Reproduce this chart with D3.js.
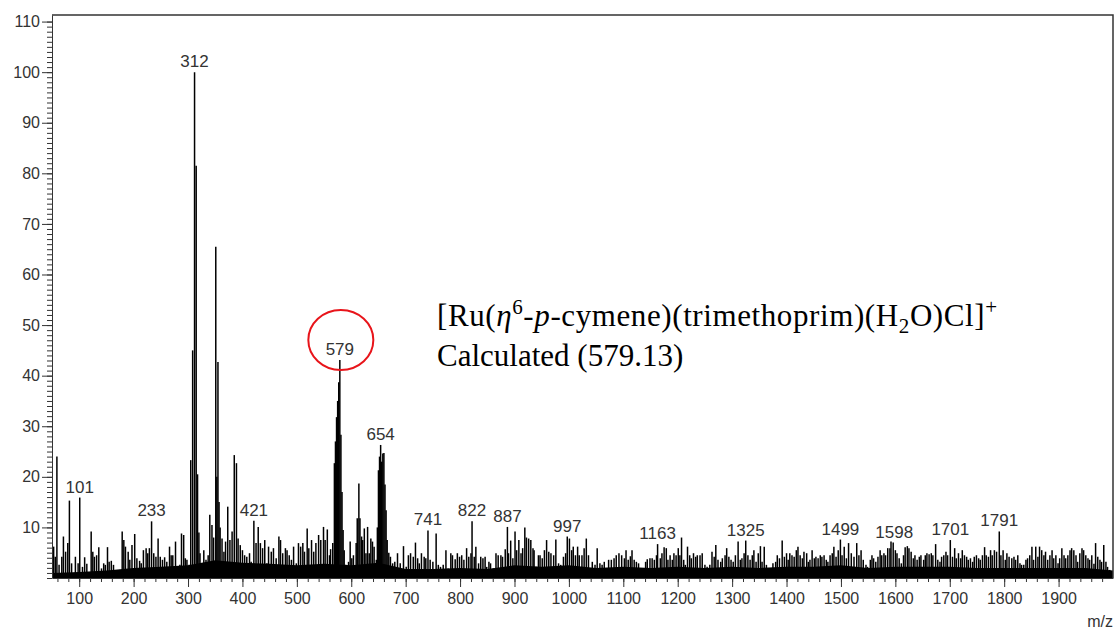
<!DOCTYPE html>
<html>
<head>
<meta charset="utf-8">
<script src="https://cdnjs.cloudflare.com/ajax/libs/d3/7.8.5/d3.min.js"></script>
<style>
  body { margin: 0; background: #fff; }
  .axis text { font-family: "Liberation Sans", Arial, sans-serif; font-size: 16px; fill: #333; }
  .axis path, .axis line { stroke: #333; }
</style>
</head>
<body>
<script>
// m/z and relative abundance (%) of every stick
var spectrum = [
  [53,6.2],[56,4.2],[59,24.0],[63,2.6],[68,4.2],[71,8.2],[75,5.2],[79,6.9],[82,15.3],[86,2.9],
  [93,4.2],[98,2.9],[101,15.9],[106,2.2],[110,4.1],[114,2.8],[122,9.2],[125,5.2],[128,4.2],[132,4.5],
  [136,6.1],[141,1.9],[145,2.9],[148,2.6],[152,6.1],[155,3.2],[159,3.4],[163,2.6],[169,1.4],[174,1.6],
  [179,9.2],[182,7.5],[185,6.2],[190,5.2],[193,3.6],[197,6.5],[202,8.7],[206,3.9],[211,3.4],[214,2.9],
  [218,5.5],[223,5.9],[226,4.9],[229,5.9],[233,11.2],[237,4.9],[241,4.2],[245,7.8],[249,4.2],[253,3.6],
  [257,4.1],[261,3.2],[266,6.2],[269,4.5],[272,4.5],[277,7.2],[281,2.2],[285,2.6],[288,8.8],[292,8.5],
  [295,3.9],[298,3.6],[302,2.6],[305,23.3],[308.5,45.0],[312,100],[315,81.5],[317.5,20.5],[320,9.0],[322,4.9],
  [324.5,2.6],[329,5.5],[333,3.6],[337,4.5],[340,12.5],[344,10.5],[347,8.0],[351,65.5],[353,20.0],[355,42.7],
  [357,15.0],[359,10.0],[362.5,7.8],[366,5.2],[369,7.2],[373,14.1],[377,7.5],[381,9.2],[385,24.3],[389,22.7],
  [392,7.8],[396,6.5],[400,5.5],[404,4.5],[408,4.2],[413,4.9],[416,3.2],[421,11.3],[425,6.9],[429,10.1],
  [433,6.9],[437,5.9],[441,7.5],[445,2.9],[448,6.2],[453,5.2],[457,5.9],[462,3.9],[467,8.2],[470,7.5],
  [474,4.9],[479,5.9],[482,5.5],[486,4.5],[490,3.6],[494,6.2],[499,2.9],[503,6.9],[507,6.2],[511,6.9],
  [514,5.2],[519,9.8],[522,5.9],[527,7.5],[531,5.2],[535,6.9],[540,8.5],[544,7.5],[549,10.1],[552,7.5],
  [556,9.6],[560,4.5],[562,5.7],[566,6.9],[569,22.7],[571,27.0],[573,31.8],[575,35.0],[577,38.7],[579,43.1],
  [581,28.3],[583,17.0],[585,9.5],[587,5.5],[590,2.6],[595,3.2],[598,7.2],[601,3.9],[604,4.5],[609,6.9],
  [611,11.8],[614,18.7],[616,11.8],[619,8.2],[621,7.5],[624,9.8],[627,4.9],[630,10.1],[633,4.9],[636,7.8],
  [639,7.2],[642,6.2],[646,3.6],[648,10.0],[650,21.3],[652,24.0],[654,26.3],[656,23.0],[658,24.6],[660,24.7],
  [662,18.5],[664,13.4],[666,7.5],[669,5.0],[672,4.2],[676,2.9],[680,3.2],[685,4.9],[690,2.9],[696,6.3],
  [701,2.2],[705,4.5],[709,4.9],[714,4.2],[718,7.0],[722,3.9],[725,2.9],[729,4.9],[734,4.2],[737,3.9],
  [741,9.4],[745,3.6],[750,3.2],[756,8.8],[760,2.6],[764,2.2],[769,2.6],[774,5.5],[778,1.9],[783,4.9],
  [786,4.5],[791,3.7],[795,4.9],[799,4.2],[803,4.5],[807,3.6],[812,5.9],[816,4.2],[820,4.9],[822,11.2],
  [826,4.2],[829,6.2],[834,2.9],[838,4.2],[842,3.9],[846,4.2],[849,2.2],[853,3.2],[856,2.9],[861,1.9],
  [866,4.9],[870,4.5],[875,4.5],[878,4.2],[883,5.7],[887,10.1],[889,4.9],[893,7.4],[897,3.9],[901,9.2],
  [904,5.5],[908,7.5],[912,4.9],[915,5.9],[919,10.0],[922,8.0],[926,7.8],[930,7.5],[934,5.9],[936,5.5],
  [940,2.2],[944,4.5],[947,4.5],[951,3.9],[955,5.5],[959,7.5],[963,5.2],[967,4.9],[972,4.5],[976,7.6],
  [981,2.9],[985,2.6],[990,4.2],[994,4.9],[997,8.2],[1001,7.8],[1005,5.5],[1008,6.2],[1012,4.5],[1016,6.2],
  [1019,4.5],[1024,4.5],[1028,5.9],[1032,7.8],[1036,4.5],[1043,3.2],[1048,2.6],[1052,5.9],[1057,2.9],[1061,2.6],
  [1065,3.2],[1069,1.9],[1073,3.6],[1078,3.6],[1083,3.9],[1087,4.5],[1092,4.9],[1097,4.5],[1102,3.9],[1105,5.5],
  [1109,3.6],[1113,4.3],[1116,5.5],[1120,3.6],[1124,3.2],[1128,2.9],[1132,0.9],[1136,1.3],[1141,3.2],[1144,3.7],
  [1149,3.9],[1153,3.9],[1157,3.6],[1161,4.5],[1163,6.7],[1168,3.9],[1171,4.9],[1175,6.1],[1179,5.9],[1182,3.6],
  [1186,4.5],[1190,3.6],[1193,4.9],[1197,4.5],[1201,5.9],[1204,4.5],[1207,8.0],[1211,3.6],[1214,2.6],[1218,6.2],
  [1222,4.5],[1225,3.9],[1229,4.9],[1233,4.2],[1236,4.5],[1241,4.5],[1245,4.9],[1250,2.6],[1254,2.2],[1259,2.6],
  [1263,5.2],[1267,4.2],[1270,6.5],[1274,3.6],[1279,3.2],[1282,3.9],[1287,4.5],[1290,5.9],[1294,4.2],[1298,3.6],
  [1302,3.2],[1306,4.5],[1311,7.2],[1315,3.6],[1318,3.9],[1322,4.9],[1325,7.4],[1329,4.5],[1333,3.6],[1337,4.5],
  [1340,5.5],[1344,3.2],[1348,4.9],[1352,6.3],[1355,3.2],[1359,6.2],[1363,2.6],[1367,0.9],[1371,1.3],[1375,2.9],
  [1380,3.2],[1383,4.5],[1387,3.9],[1392,7.4],[1396,4.2],[1400,4.9],[1403,3.6],[1406,4.9],[1410,4.5],[1414,4.2],
  [1418,5.5],[1421,6.2],[1425,4.5],[1429,3.9],[1432,5.2],[1437,4.9],[1440,3.2],[1443,3.6],[1447,5.5],[1451,3.9],
  [1454,4.2],[1458,3.9],[1462,4.5],[1465,4.2],[1469,4.5],[1473,3.6],[1476,3.2],[1480,4.5],[1484,4.9],[1487,6.2],
  [1491,4.2],[1495,5.5],[1499,7.6],[1502,4.5],[1506,6.2],[1510,3.9],[1514,6.9],[1519,4.9],[1524,4.2],[1529,6.9],
  [1533,4.5],[1537,5.5],[1541,3.6],[1546,2.6],[1549,2.2],[1554,3.6],[1557,4.5],[1560,3.9],[1564,3.2],[1568,4.2],
  [1572,5.5],[1575,4.5],[1579,4.9],[1582,4.5],[1586,5.9],[1590,5.9],[1592,7.2],[1596,7.0],[1600,5.5],[1603,4.9],
  [1607,3.9],[1611,2.9],[1615,4.5],[1618,6.1],[1622,6.3],[1625,5.9],[1629,5.2],[1633,3.9],[1636,4.5],[1640,3.6],
  [1644,4.2],[1647,4.5],[1652,3.6],[1655,4.5],[1658,4.9],[1662,4.7],[1666,4.9],[1669,4.5],[1674,6.7],[1678,3.6],
  [1682,3.2],[1685,4.2],[1689,4.5],[1693,5.2],[1696,4.5],[1701,7.5],[1705,4.2],[1709,5.9],[1712,3.9],[1716,4.9],
  [1720,3.9],[1723,5.5],[1727,4.5],[1731,4.2],[1734,3.6],[1738,3.9],[1742,3.2],[1745,4.2],[1749,4.5],[1753,3.9],
  [1756,3.6],[1760,4.5],[1764,6.1],[1767,4.5],[1771,4.2],[1775,5.5],[1778,4.5],[1782,5.5],[1786,5.2],[1791,9.2],
  [1794,4.5],[1798,5.5],[1802,3.6],[1805,4.9],[1809,4.2],[1814,3.9],[1818,4.2],[1821,3.6],[1825,4.5],[1829,2.9],
  [1832,2.6],[1836,2.6],[1840,3.6],[1843,3.9],[1847,4.5],[1851,6.2],[1854,3.6],[1858,6.2],[1862,4.2],[1865,6.2],
  [1869,5.5],[1873,4.5],[1876,5.2],[1880,3.6],[1884,4.5],[1888,5.5],[1891,3.9],[1895,4.5],[1899,2.9],[1902,3.9],
  [1906,5.9],[1910,4.5],[1913,3.9],[1917,4.5],[1921,5.5],[1924,5.9],[1928,5.5],[1932,4.5],[1935,3.2],[1939,4.9],
  [1943,5.9],[1946,5.5],[1950,4.5],[1954,3.9],[1957,3.6],[1961,4.5],[1965,2.8],[1968,6.9],[1972,4.2],[1976,3.6],
  [1979,3.2],[1983,6.5],[1987,3.2],[1990,2.2],[1994,1.6]
];

// dense noise floor under the sticks, every 50 m/z
var floorMz = [50,100,150,200,250,300,350,400,450,500,550,600,650,700,750,800,850,900,950,1000,
               1050,1100,1150,1200,1250,1300,1350,1400,1450,1500,1550,1600,1650,1700,1750,1800,1850,1900,1950,2000];
var floorLevel = [1,1.2,1.5,2,2.2,2.5,3.5,3,2.8,2.5,2.8,2.5,3,1.8,1.8,2,1.8,2.5,2.2,2.5,
                  2,2.2,2,2.2,2,2.2,2,2.2,2.2,2.5,2,2.2,2.2,2.2,2,2,2,2,2,1.5];

// labelled peaks
var peakLabels = [101,233,312,421,579,654,741,822,887,997,1163,1325,1499,1598,1701,1791];

var yTicks = [10,20,30,40,50,60,70,80,90,100,110];
var xTicks = [100,200,300,400,500,600,700,800,900,1000,1100,1200,1300,1400,1500,1600,1700,1800,1900];

var width = 1118, height = 630;
var plotLeft = 52, plotRight = 1113, plotTop = 15, plotBottom = 578;

var svg = d3.select("body").append("svg")
    .attr("width", width)
    .attr("height", height);

var xScale = d3.scaleLinear().domain([50, 2000]).range([plotLeft, plotRight]);
var yScale = d3.scaleLinear().domain([0, 111.3]).range([plotBottom, plotTop]);

// noise floor
var floorData = floorMz.map(function(d, i) { return [d, floorLevel[i]]; });
svg.append("path")
   .datum(floorData)
   .attr("fill", "#000")
   .attr("d", d3.area()
       .x(function(d) { return xScale(d[0]); })
       .y0(yScale(0))
       .y1(function(d) { return yScale(d[1]); }));

// sticks
svg.selectAll("line.stick")
   .data(spectrum)
   .enter()
   .append("line")
   .attr("class", "stick")
   .attr("x1", function(d) { return xScale(d[0]); })
   .attr("x2", function(d) { return xScale(d[0]); })
   .attr("y1", yScale(0))
   .attr("y2", function(d) { return yScale(d[1]); })
   .attr("stroke", "#000")
   .attr("stroke-width", 1.5);

// minor ticks
svg.append("g")
   .attr("class", "axis")
   .attr("transform", "translate(" + plotLeft + ",0)")
   .call(d3.axisLeft(yScale).tickValues(d3.range(0, 111, 1)).tickSize(5).tickFormat(""))
   .select(".domain").remove();
svg.append("g")
   .attr("class", "axis")
   .attr("transform", "translate(0," + plotBottom + ")")
   .call(d3.axisBottom(xScale).tickValues(d3.range(60, 2000, 20)).tickSize(4).tickFormat(""))
   .select(".domain").remove();

// major axes
svg.append("g")
   .attr("class", "axis")
   .attr("transform", "translate(" + plotLeft + ",0)")
   .call(d3.axisLeft(yScale).tickValues(yTicks).tickSize(10).tickPadding(2).tickSizeOuter(0));
svg.append("g")
   .attr("class", "axis")
   .attr("transform", "translate(0," + plotBottom + ")")
   .call(d3.axisBottom(xScale).tickValues(xTicks).tickFormat(d3.format("d"))
           .tickSize(9).tickPadding(6).tickSizeOuter(0));

// top and right frame
svg.append("path")
   .attr("d", "M" + plotLeft + "," + plotTop + "H" + plotRight + "V" + plotBottom)
   .attr("fill", "none")
   .attr("stroke", "#333")
   .attr("stroke-width", 1.5);

// x axis title
svg.append("text")
   .attr("x", plotRight)
   .attr("y", 627)
   .attr("text-anchor", "end")
   .style("font-family", "Liberation Sans, Arial, sans-serif")
   .style("font-size", "16px")
   .style("fill", "#333")
   .text("m/z");

// peak labels
function peakTop(m) {
  var near = spectrum.filter(function(d) { return Math.abs(d[0] - m) <= 3; });
  return d3.max(near, function(d) { return d[1]; });
}
svg.selectAll("text.peak")
   .data(peakLabels)
   .enter()
   .append("text")
   .attr("class", "peak")
   .attr("x", function(d) { return xScale(d); })
   .attr("y", function(d) { return yScale(peakTop(d)) - 5; })
   .attr("text-anchor", "middle")
   .style("font-family", "Liberation Sans, Arial, sans-serif")
   .style("font-size", "17px")
   .style("fill", "#333")
   .text(function(d) { return d; });

// red circle round the 579 peak
svg.append("ellipse")
   .attr("cx", xScale(579) + 1)
   .attr("cy", yScale(peakTop(579)) - 20)
   .attr("rx", 32.5)
   .attr("ry", 30)
   .attr("fill", "none")
   .attr("stroke", "#e8141a")
   .attr("stroke-width", 2);

// annotation
var note = svg.append("text")
   .attr("x", 437)
   .attr("y", 326)
   .style("font-family", "Liberation Serif, Times New Roman, serif")
   .style("font-size", "31px")
   .style("letter-spacing", "0.6px")
   .style("fill", "#000");
note.append("tspan").text("[Ru(");
note.append("tspan").style("font-style", "italic").text("\u03B7");
note.append("tspan").attr("dy", -12).style("font-size", "21px").text("6");
note.append("tspan").attr("dy", 12).text("-");
note.append("tspan").style("font-style", "italic").text("p");
note.append("tspan").text("-cymene)(trimethoprim)(H");
note.append("tspan").attr("dy", 7).style("font-size", "21px").text("2");
note.append("tspan").attr("dy", -7).text("O)Cl]");
note.append("tspan").attr("dy", -12).style("font-size", "21px").text("+");

svg.append("text")
   .attr("x", 437)
   .attr("y", 366)
   .style("font-family", "Liberation Serif, Times New Roman, serif")
   .style("font-size", "31px")
   .style("fill", "#000")
   .text("Calculated (579.13)");
</script>
</body>
</html>
